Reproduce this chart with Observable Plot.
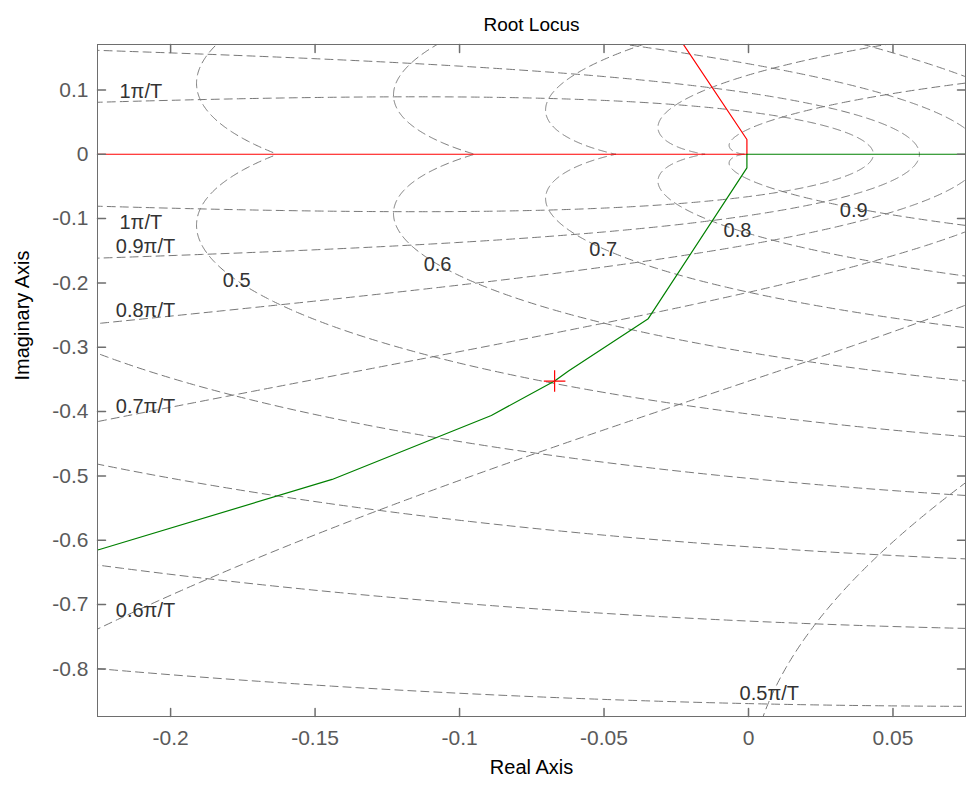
<!DOCTYPE html>
<html>
<head>
<meta charset="utf-8">
<script src="https://cdn.jsdelivr.net/npm/d3@7"></script>
<script src="https://cdn.jsdelivr.net/npm/@observablehq/plot@0.6"></script>
<style>
  html, body { margin: 0; padding: 0; background: #fff; }
</style>
</head>
<body>
<div id="chart"></div>
<script>
// ---- axes ----
const xDomain = [-0.2253, 0.0751];
const yDomain = [-0.874, 0.1706];
const xTicks = [-0.2, -0.15, -0.1, -0.05, 0, 0.05];
const xTickLabels = ["-0.2", "-0.15", "-0.1", "-0.05", "0", "0.05"];
const yTicks = [0.1, 0, -0.1, -0.2, -0.3, -0.4, -0.5, -0.6, -0.7, -0.8];
const yTickLabels = ["0.1", "0", "-0.1", "-0.2", "-0.3", "-0.4", "-0.5", "-0.6", "-0.7", "-0.8"];

// ---- z-plane grid (zgrid) parameters ----
const zetaValues = [0.1, 0.2, 0.3, 0.4, 0.5, 0.6, 0.7, 0.8, 0.9];
const wnValues = [0.1, 0.2, 0.3, 0.4, 0.5, 0.6, 0.7, 0.8, 0.9, 1.0]; // times pi/T

const zetaLabels = ["0.5", "0.6", "0.7", "0.8", "0.9"];
const zetaLabelX = [-0.1771, -0.1076, -0.0503, -0.0038, 0.0364];
const zetaLabelY = [-0.197, -0.1711, -0.1478, -0.1182, -0.0871];

const wnLabels = ["1π/T", "1π/T", "0.9π/T", "0.8π/T", "0.7π/T", "0.6π/T", "0.5π/T"];
const wnLabelX = [-0.2103, -0.2103, -0.2087, -0.2087, -0.2087, -0.2087, 0.0072];
const wnLabelY = [0.0969, -0.1069, -0.1442, -0.2437, -0.393, -0.7093, -0.8389];

// ---- root locus branches ----
const redRealX = [-0.24, -0.00055];
const redRealY = [0, 0];
const redUpperX = [-0.00055, -0.00055, -0.0254];
const redUpperY = [0, 0.0229, 0.19];
const greenRealX = [-0.00055, 0.09];
const greenRealY = [0, 0];
const greenLowerX = [-0.00055, -0.00055, -0.0347, -0.0623, -0.0671, -0.0890, -0.1441, -0.2246, -0.235];
const greenLowerY = [0, -0.0213, -0.2556, -0.3370, -0.3526, -0.4060, -0.5055, -0.6144, -0.6283];
const markerX = [-0.0671];
const markerY = [-0.3526];

// ---- build grid curves (the zgrid construction) ----
const gridPts = [];
const N = 600;
zetaValues.forEach(zeta => {
  const m = zeta / Math.sqrt(1 - zeta * zeta);
  for (const sgn of [1, -1]) {
    const id = "z" + zeta + (sgn > 0 ? "u" : "l");
    for (let i = 0; i <= N; i++) {
      const th = Math.PI * i / N;
      const r = Math.exp(-m * th);
      gridPts.push({id, x: r * Math.cos(th), y: sgn * r * Math.sin(th)});
    }
  }
});
wnValues.forEach(f => {
  const wn = f * Math.PI;
  for (const sgn of [1, -1]) {
    const id = "w" + f + (sgn > 0 ? "u" : "l");
    for (let i = 0; i <= N; i++) {
      const ph = Math.PI / 2 + (Math.PI / 2) * i / N;
      const r = Math.exp(wn * Math.cos(ph));
      const a = wn * Math.sin(ph);
      gridPts.push({id, x: r * Math.cos(a), y: sgn * r * Math.sin(a)});
    }
  }
});

const toPts = (xs, ys) => xs.map((x, i) => ({x, y: ys[i]}));
const zetaLab = zetaLabels.map((t, i) => ({t, x: zetaLabelX[i], y: zetaLabelY[i]}));
const wnLab = wnLabels.map((t, i) => ({t, x: wnLabelX[i], y: wnLabelY[i]}));

const axisColor = "#6e6e6e";
const tickTextColor = "#5a5a5a";
const font = "Liberation Sans, Arial, Helvetica, sans-serif";

const chart = Plot.plot({
  width: 966,
  height: 789,
  marginLeft: 97,
  marginRight: 1,
  marginTop: 44,
  marginBottom: 73,
  x: {domain: xDomain, axis: null},
  y: {domain: yDomain, axis: null},
  style: {fontFamily: font, background: "#fff", overflow: "visible"},
  marks: [
    // grid
    Plot.line(gridPts, {x: "x", y: "y", z: "id", stroke: "#787878", strokeWidth: 1, strokeDasharray: "8,5", clip: true, curve: "linear"}),
    Plot.text(zetaLab, {x: "x", y: "y", text: "t", fontSize: 20, fill: "#333"}),
    Plot.text(wnLab, {x: "x", y: "y", text: "t", fontSize: 20, fill: "#333"}),
    // locus
    Plot.line(toPts(redRealX, redRealY), {x: "x", y: "y", stroke: "#ff0000", strokeWidth: 1.2, clip: true}),
    Plot.line(toPts(redUpperX, redUpperY), {x: "x", y: "y", stroke: "#ff0000", strokeWidth: 1.2, clip: true}),
    Plot.line(toPts(greenRealX, greenRealY), {x: "x", y: "y", stroke: "#008000", strokeWidth: 1.2, clip: true}),
    Plot.line(toPts(greenLowerX, greenLowerY), {x: "x", y: "y", stroke: "#008000", strokeWidth: 1.2, clip: true}),
    Plot.dot(toPts(markerX, markerY), {x: "x", y: "y", symbol: "plus", r: 7, stroke: "#ff0000", strokeWidth: 1.2}),
    // frame and ticks
    Plot.frame({stroke: axisColor, strokeWidth: 1}),
    Plot.vector(xTicks, {x: d => d, frameAnchor: "bottom", length: 8, rotate: 0, anchor: "start", r: 0, stroke: axisColor}),
    Plot.vector(xTicks, {x: d => d, frameAnchor: "top", length: 8, rotate: 180, anchor: "start", r: 0, stroke: axisColor}),
    Plot.vector(yTicks, {y: d => d, frameAnchor: "left", length: 8, rotate: 90, anchor: "start", r: 0, stroke: axisColor}),
    Plot.vector(yTicks, {y: d => d, frameAnchor: "right", length: 8, rotate: -90, anchor: "start", r: 0, stroke: axisColor}),
    // tick labels
    Plot.text(xTicks, {x: d => d, frameAnchor: "bottom", dy: 22, text: (d, i) => xTickLabels[i], fontSize: 21, fill: tickTextColor, lineAnchor: "middle"}),
    Plot.text(yTicks, {y: d => d, frameAnchor: "left", dx: -9, text: (d, i) => yTickLabels[i], fontSize: 21, fill: tickTextColor, textAnchor: "end", lineAnchor: "middle"}),
    // titles
    Plot.text(["Root Locus"], {frameAnchor: "top", dy: -27, text: d => d, fontSize: 19, fill: "#000"}),
    Plot.text(["Real Axis"], {frameAnchor: "bottom", dy: 57, text: d => d, fontSize: 20, fill: "#000"}),
    Plot.text(["Imaginary Axis"], {frameAnchor: "left", dx: -75, rotate: -90, text: d => d, fontSize: 20, fill: "#000"})
  ]
});
document.getElementById("chart").appendChild(chart);
</script>
</body>
</html>
